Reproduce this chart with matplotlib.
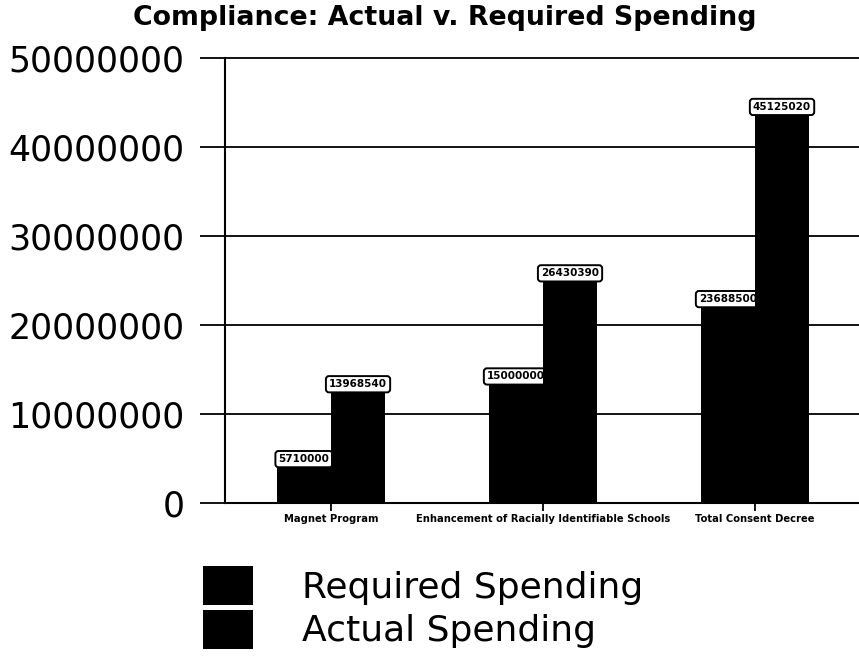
import numpy as np
import matplotlib.pyplot as plt

# datos
categorias = ["Magnet Program",
              "Enhancement of Racially Identifiable Schools",
              "Total Consent Decree"]
requerido = [5710000, 15000000, 23688500]
actual = [13968540, 26430390, 45125020]
series = ["Required Spending", "Actual Spending"]
yticks = [0, 10000000, 20000000, 30000000, 40000000, 50000000]

plt.rcParams['font.family'] = ['DejaVu Sans']

fig = plt.figure(figsize=(8.59, 6.6), dpi=100)
ax = fig.add_axes([225 / 859, 1 - 503 / 660, 636 / 859, 445 / 660])

x = np.arange(len(categorias))
ancho = 0.255

b1 = ax.bar(x - ancho / 2, requerido, ancho, color='black', zorder=2, label=series[0])
b2 = ax.bar(x + ancho / 2, actual, ancho, color='black', zorder=4, label=series[1])

caja = dict(boxstyle='round,pad=0.3,rounding_size=0.3', fc='white', ec='black', lw=1.4)
# etiquetas de requerido debajo de las barras de actual
for xi, v in zip(x - ancho / 2, requerido):
    ax.annotate(str(v), (xi, v), xytext=(0, -5), textcoords='offset points',
                ha='center', va='center', fontsize=7.5, fontweight='bold',
                bbox=caja, zorder=3)
for xi, v in zip(x + ancho / 2, actual):
    ax.annotate(str(v), (xi, v), xytext=(0, -4), textcoords='offset points',
                ha='center', va='center', fontsize=7.5, fontweight='bold',
                bbox=caja, zorder=5)

ax.set_xlim(-0.5, 2.5)
ax.set_ylim(0, 50000000)
ax.set_yticks(yticks)
ax.set_yticklabels([str(t) for t in yticks], fontsize=25)
ax.set_xticks(x)
ax.set_xticklabels(categorias, fontsize=7.2, fontweight='bold')

ax.tick_params(axis='y', direction='out', length=18, width=1.3, pad=11)
ax.tick_params(axis='x', direction='out', length=6, width=1.3, pad=2)
ax.yaxis.grid(True, color='black', lw=1.3, zorder=0)
for g in ax.get_ygridlines():
    g.set_clip_on(False)
ax.set_axisbelow(True)

for s in ['top', 'right']:
    ax.spines[s].set_visible(False)
ax.spines['left'].set_linewidth(1.5)
ax.spines['bottom'].set_linewidth(1.5)

fig.text(445 / 859, 1 - 18 / 660, "Compliance: Actual v. Required Spending",
         ha='center', va='center', fontsize=19.3, fontweight='bold')

fig.legend(handles=[b1, b2], labels=series, loc='upper left',
           bbox_to_anchor=(203 / 859, 1 - 566 / 660), frameon=False,
           fontsize=26, handlelength=1.39, handleheight=1.3,
           handletextpad=1.36, labelspacing=0.12, borderpad=0, borderaxespad=0)

fig.savefig('out.png', dpi=100)
